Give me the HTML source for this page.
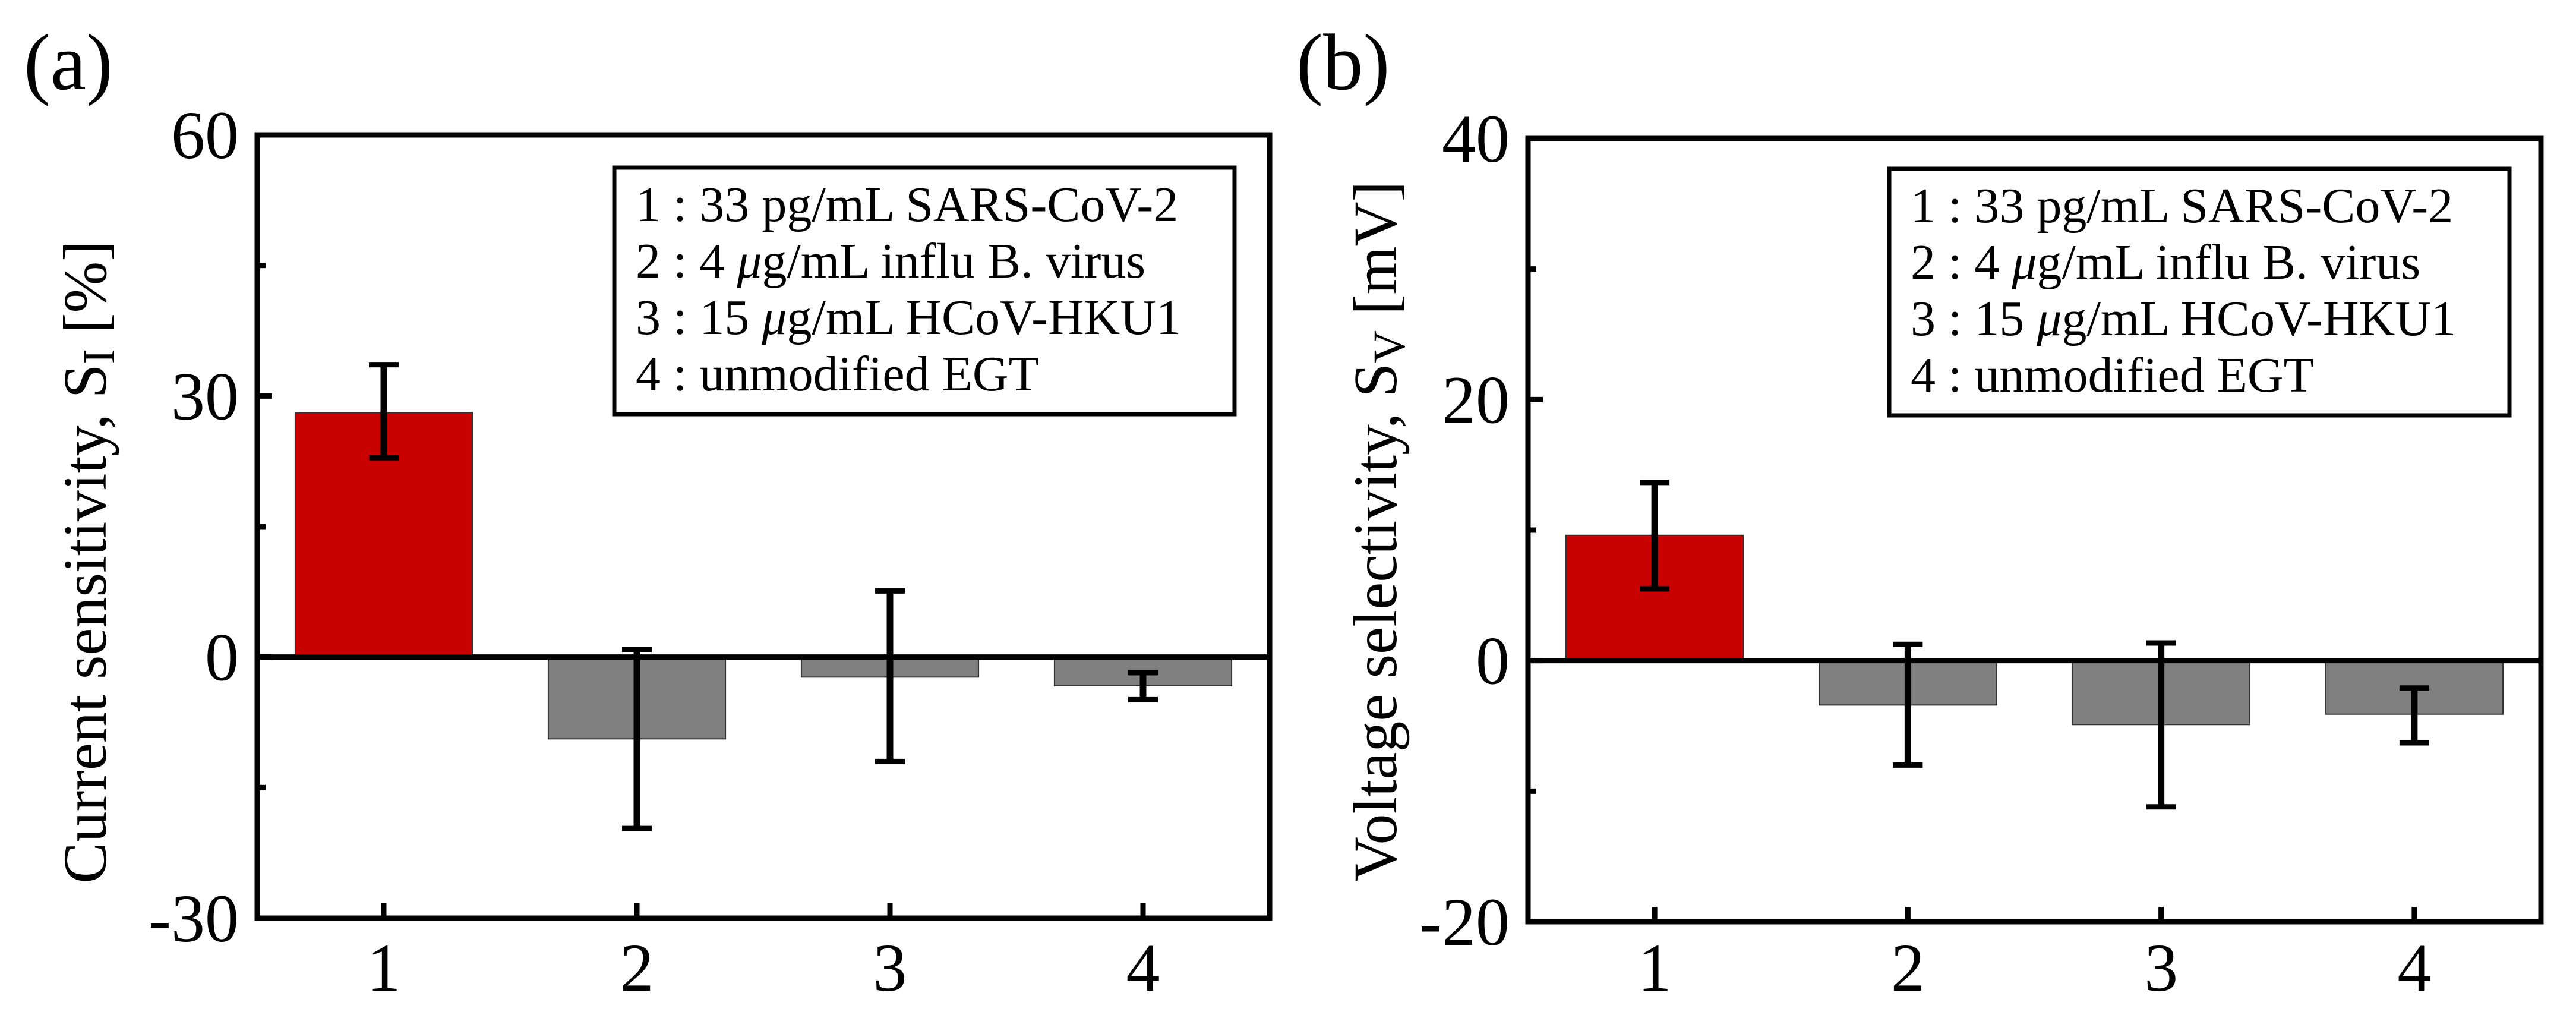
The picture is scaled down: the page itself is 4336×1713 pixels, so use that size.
<!DOCTYPE html>
<html><head><meta charset="utf-8"><style>
html,body{margin:0;padding:0;background:#fff;}
svg{display:block;font-family:"Liberation Serif",serif;}
</style></head><body>
<svg id="fig" width="4336" height="1713" viewBox="0 0 4336 1713" xmlns="http://www.w3.org/2000/svg">
<rect width="4336" height="1713" fill="#fff"/>
</svg>
<script>
const categories = ["1","2","3","4"];
const sensValues = [28.1, -9.4, -2.3, -3.3];
const sensErrLow = [22.9, -19.7, -12.0, -4.9];
const sensErrHigh = [33.6, 0.9, 7.6, -1.8];
const sensTicks = [60, 30, 0, -30];
const sensMinor = [45, 15, -15];
const voltValues = [9.6, -3.4, -4.9, -4.1];
const voltErrLow = [5.5, -8.0, -11.2, -6.3];
const voltErrHigh = [13.65, 1.25, 1.35, -2.1];
const voltTicks = [40, 20, 0, -20];
const voltMinor = [30, 10, -10];
const legendLines = [["1 : 33 pg/mL SARS-CoV-2"], ["2 : 4 ", "\u03bc", "g/mL influ B. virus"], ["3 : 15 ", "\u03bc", "g/mL HCoV-HKU1"], ["4 : unmodified EGT"]];

const NS = "http://www.w3.org/2000/svg";
const svg = document.getElementById('fig');
function mk(tag, attrs, parent) {
  const e = document.createElementNS(NS, tag);
  for (const k in attrs) e.setAttribute(k, attrs[k]);
  (parent || svg).appendChild(e);
  return e;
}

function panel(cfg) {
  const g = mk('g', {});
  
  
  const L = cfg.left, R = cfg.right, T = cfg.top, B = cfg.bottom;
  const ymin = cfg.ymin, ymax = cfg.ymax;
  const y = v => T + (ymax - v) / (ymax - ymin) * (B - T);
  const x = i => L + (i + 0.5) / categories.length * (R - L);
  const bw = 0.7 * (R - L) / categories.length;

  for (let i = 0; i < categories.length; i++) {
    const v = cfg.values[i];
    const r = mk('rect', {x: x(i) - bw / 2, y: Math.min(y(v), y(0)), width: bw, height: Math.abs(y(v) - y(0)),
      fill: i === 0 ? '#c80000' : '#808080', stroke: '#333', 'stroke-width': 2}, g);
    
    
  }
  const z = mk('line', {x1: L, x2: R, y1: y(0), y2: y(0), stroke: '#000', 'stroke-width': 9}, g);
  
  
  for (let i = 0; i < categories.length; i++) {
    const eg = mk('g', {stroke: '#000', 'stroke-width': 10}, g);
    
    
    const lo = y(cfg.low[i]), hi = y(cfg.high[i]);
    mk('line', {x1: x(i), x2: x(i), y1: hi, y2: lo, 'stroke-width': 11}, eg);
    mk('line', {x1: x(i) - 25, x2: x(i) + 25, y1: hi, y2: hi, 'stroke-width': 9}, eg);
    mk('line', {x1: x(i) - 25, x2: x(i) + 25, y1: lo, y2: lo, 'stroke-width': 9}, eg);
  }
  const f = mk('rect', {x: L, y: T, width: R - L, height: B - T, fill: 'none', stroke: '#000', 'stroke-width': 9}, g);
  
  
  cfg.ticks.forEach(t => {
    mk('line', {x1: L, x2: L + 25, y1: y(t), y2: y(t), stroke: '#000', 'stroke-width': 9}, g);
    const tx = mk('text', {x: L - 31, y: y(t) + 39, 'font-size': 114, 'text-anchor': 'end'}, g);
    
    
    tx.textContent = t;
  });
  cfg.minor.forEach(t => {
    mk('line', {x1: L, x2: L + 14, y1: y(t), y2: y(t), stroke: '#000', 'stroke-width': 9}, g);
  });
  categories.forEach((c, i) => {
    mk('line', {x1: x(i), x2: x(i), y1: B, y2: B - 25, stroke: '#000', 'stroke-width': 9}, g);
    const tx = mk('text', {x: x(i), y: 1667, 'font-size': 114, 'text-anchor': 'middle'}, g);
    
    
    tx.textContent = c;
  });
  const yl = mk('text', {x: 0, y: 0, 'font-size': 104, 'text-anchor': 'middle',
    transform: 'translate(' + cfg.ylabX + ',' + cfg.ylabY + ') rotate(-90)'}, g);
  
  
  const t1 = mk('tspan', {}, yl); t1.textContent = cfg.ylab;
  const t2 = mk('tspan', {'font-size': 76, dy: 14}, yl); t2.textContent = cfg.ysub;
  const t3 = mk('tspan', {dy: -14}, yl); t3.textContent = ' ' + cfg.yunit;
  const pl = mk('text', {x: cfg.letterX, y: 150, 'font-size': 135}, g);
  
  
  pl.textContent = cfg.letter;
  const lg = mk('g', {}, g);
  
  
  mk('rect', {x: cfg.legX, y: cfg.legY, width: 1044, height: 415, fill: '#fff', stroke: '#000', 'stroke-width': 7}, lg);
  legendLines.forEach((parts, i) => {
    const lt = mk('text', {x: cfg.legX + 36, y: cfg.legY + 90 + i * 95, 'font-size': 84}, lg);
    
    
    parts.forEach((p, j) => {
      const sp = mk('tspan', j === 1 ? {'font-style': 'italic'} : {}, lt);
      sp.textContent = p;
    });
  });
}

panel({name: 'panel-a-current-sensitivity', left: 433, right: 2137, top: 227, bottom: 1545, ymin: -30, ymax: 60,
  values: sensValues, low: sensErrLow, high: sensErrHigh, ticks: sensTicks, minor: sensMinor,
  ylab: 'Current sensitivity, S', ysub: 'I', yunit: '[%]', ylabX: 178, ylabY: 946,
  letter: '(a)', letterX: 40, legX: 1034, legY: 282});
panel({name: 'panel-b-voltage-selectivity', left: 2572, right: 4277, top: 233, bottom: 1551, ymin: -20, ymax: 40,
  values: voltValues, low: voltErrLow, high: voltErrHigh, ticks: voltTicks, minor: voltMinor,
  ylab: 'Voltage selectivity, S', ysub: 'V', yunit: '[mV]', ylabX: 2350, ylabY: 894,
  letter: '(b)', letterX: 2182, legX: 3180, legY: 284});
</script>
</body></html>
